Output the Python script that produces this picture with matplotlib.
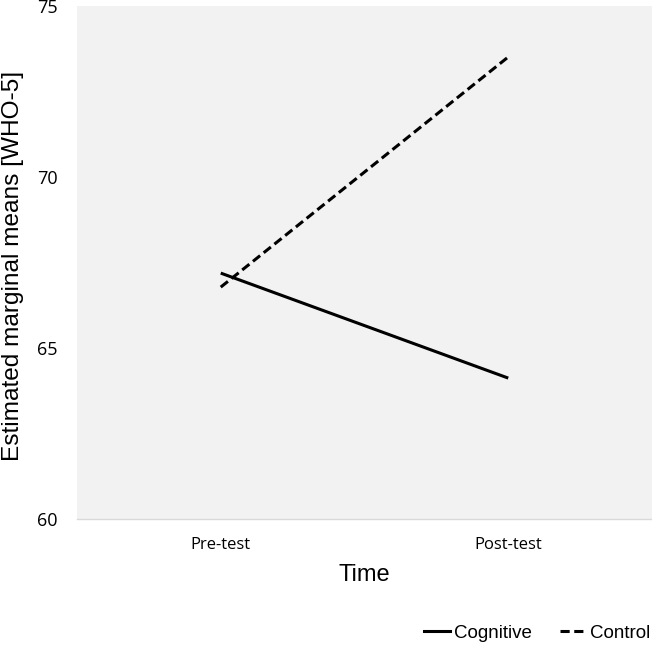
import matplotlib
matplotlib.use("Agg")
from matplotlib import pyplot as plt
from matplotlib.lines import Line2D

# Data
time_points = ["Pre-test", "Post-test"]
cognitive = [67.19, 64.12]
control = [66.78, 73.51]
y_ticks = [60, 65, 70, 75]

fig = plt.figure(figsize=(6.52, 6.45), dpi=100)
ax = fig.add_axes([77 / 652, 1 - 519 / 645, 575 / 652, 513 / 645])
ax.set_facecolor("#f2f2f2")

x = list(range(len(time_points)))
ax.plot(x, cognitive, color="black", linewidth=2.2, solid_capstyle="butt")
ax.plot(x, control, color="black", linewidth=2.2, linestyle=(0, (3, 1.5)))

ax.set_xlim(-0.5, 1.5)
ax.set_ylim(60, 75)
ax.set_yticks(y_ticks)
ax.set_xticks(x)
ax.set_xticklabels(time_points, fontfamily="Open Sans", fontsize=12)
ax.set_yticklabels([str(v) for v in y_ticks], fontfamily="Open Sans", fontsize=13)
ax.tick_params(length=0)
ax.tick_params(axis="x", pad=13)
ax.tick_params(axis="y", pad=14)

for side in ["top", "right", "left"]:
    ax.spines[side].set_visible(False)
ax.spines["bottom"].set_color("#d9d9d9")
ax.spines["bottom"].set_linewidth(1)

# label anchor is the right edge of the rotated text
ax.set_ylabel("Estimated marginal means [WHO-5]", fontfamily="Liberation Sans", fontsize=17.6)
ax.yaxis.set_label_coords(-53 / 575, 0.493)
ax.set_xlabel("Time", fontfamily="Liberation Sans", fontsize=17)
ax.xaxis.set_label_coords(0.5, -45 / 513)

handles = [
    Line2D([], [], color="black", linewidth=2.2),
    Line2D([], [], color="black", linewidth=2.2, linestyle=(0, (3, 1.5))),
]
fig.legend(handles, ["Cognitive", "Control"], loc="center right",
           bbox_to_anchor=(1.0 + 7 / 652, 1 - 633 / 645), ncol=2, frameon=False,
           prop={"family": "Liberation Sans", "size": 13.5},
           handlelength=1.35, handletextpad=0.25, columnspacing=1.5,
           borderaxespad=0.05)

fig.savefig("out.png", dpi=100)
